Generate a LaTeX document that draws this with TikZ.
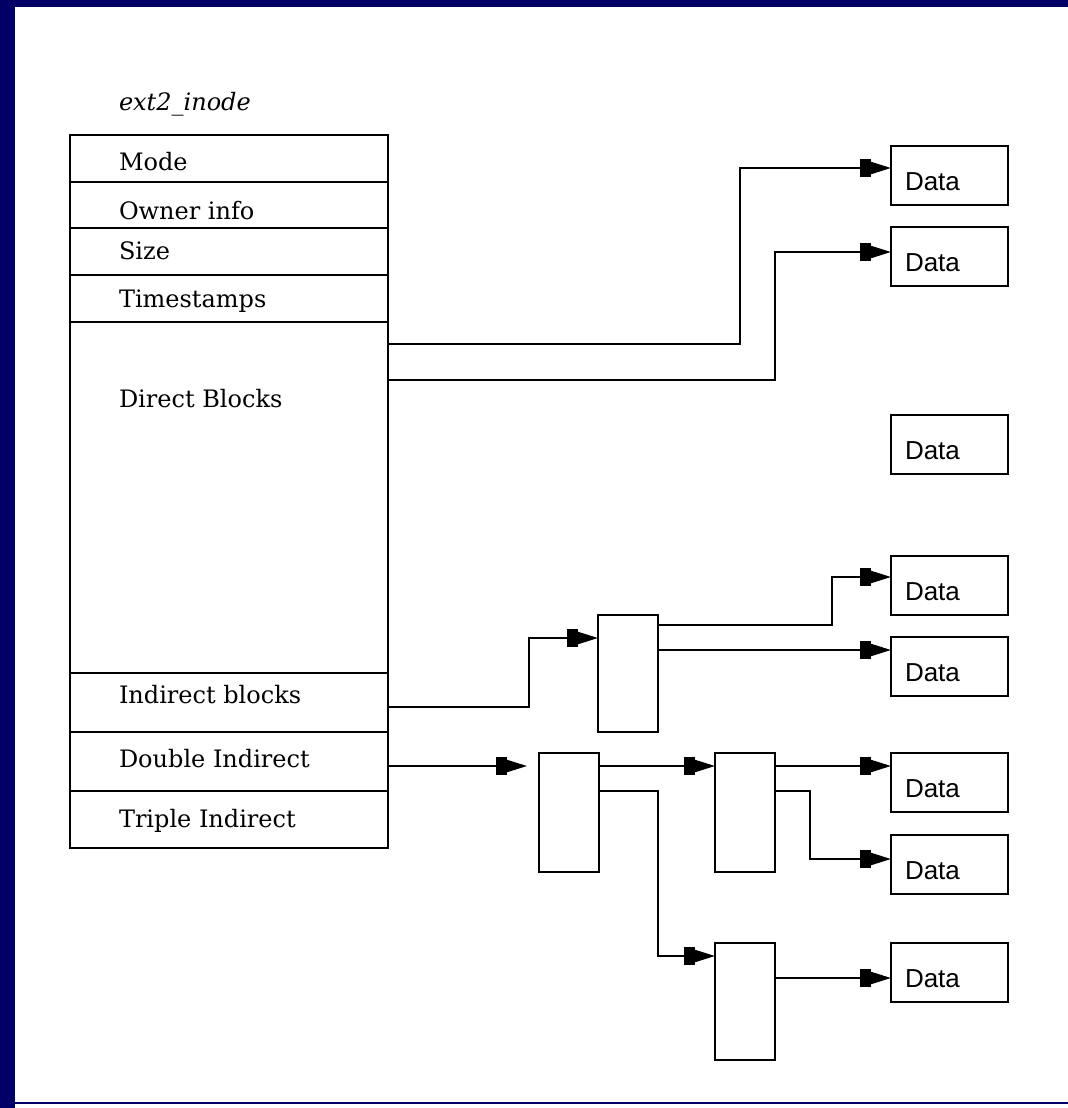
\documentclass[tikz,border=0pt]{standalone}
\usepackage{fontspec}
\usetikzlibrary{arrows.meta}
\newfontfamily\lblfont{DejaVu Serif}
\newfontfamily\datafont{Liberation Sans}
\definecolor{navy}{RGB}{0,0,102}
\newdimen\PX \PX=0.75pt
\begin{document}
\begin{tikzpicture}[x=0.75pt,y=-0.75pt,
  line width=1.5pt,
  row/.style={draw, inner sep=0pt, outer sep=0pt, minimum width=318\PX, anchor=north west},
  ptrbox/.style={draw, inner sep=0pt, outer sep=0pt, minimum width=60\PX, minimum height=118\PX, anchor=north west},
  databox/.style={draw, inner sep=0pt, outer sep=0pt, inner xsep=14\PX, text width=89\PX, align=left,
     text height=44\PX, text depth=15\PX, anchor=north west, font=\datafont\fontsize{19.5}{22}\selectfont},
  lbl/.style={anchor=base west, inner sep=0pt, font=\lblfont\fontsize{18}{21}\selectfont},
  conn/.style={draw, line width=1.5pt, -{Rectangle[length=8pt,width=13pt]Triangle[length=15pt,width=9pt]}}
]
\useasboundingbox (0,0) rectangle (1068,1108);
\fill[navy] (0,0) rectangle (15,1108);
\fill[navy] (0,0) rectangle (1068,7);
\draw[navy, line width=1.5pt] (15,1103) -- (1068,1103);

% title
\node[anchor=base west, inner sep=0pt, font=\lblfont\itshape\fontsize{18}{21}\selectfont] (title) at (118,110) {ext2\_inode};

% inode rows
\node[row, minimum height=47\PX] (mode) at (70,135) {};
\node[row, minimum height=46\PX] (owner) at (70,182) {};
\node[row, minimum height=47\PX] (size) at (70,228) {};
\node[row, minimum height=47\PX] (ts) at (70,275) {};
\node[row, minimum height=351\PX] (dir) at (70,322) {};
\node[row, minimum height=59\PX] (ind) at (70,673) {};
\node[row, minimum height=59\PX] (dind) at (70,732) {};
\node[row, minimum height=57\PX] (tind) at (70,791) {};

\node[lbl] (modeT) at (118,170) {Mode};
\node[lbl] (ownerT) at (118,219) {Owner info};
\node[lbl] (sizeT) at (118,259) {Size};
\node[lbl] (tsT) at (118,307) {Timestamps};
\node[lbl] (dirT) at (118,407) {Direct Blocks};
\node[lbl] (indT) at (118,703) {Indirect blocks};
\node[lbl] (dindT) at (118,767) {Double Indirect};
\node[lbl] (tindT) at (118,827) {Triple Indirect};

% pointer blocks
\node[ptrbox, minimum height=117\PX] (p1) at (598,615) {};
\node[ptrbox, minimum height=119\PX] (p2) at (539,753) {};
\node[ptrbox, minimum height=119\PX] (p3) at (715,753) {};
\node[ptrbox, minimum height=117\PX] (p4) at (715,943) {};

% data blocks
\node[databox] (d1) at (891,146) {Data};
\node[databox] (d2) at (891,227) {Data};
\node[databox] (d3) at (891,415) {Data};
\node[databox] (d4) at (891,556) {Data};
\node[databox] (d5) at (891,637) {Data};
\node[databox] (d6) at (891,753) {Data};
\node[databox] (d7) at (891,835) {Data};
\node[databox] (d8) at (891,943) {Data};

% connectors
\draw[conn] (dir.east |- 0,344) -- (740,344) |- (d1.west |- 0,168);
\draw[conn] (dir.east |- 0,380) -- (775,380) |- (d2.west |- 0,252);
\draw[conn] (ind.east |- 0,707) -- (529,707) |- (p1.west |- 0,638);
\draw[conn] (p1.east |- 0,625) -- (832,625) |- (d4.west |- 0,577);
\draw[conn] (p1.east |- 0,650) -- (d5.west |- 0,650);
\draw[conn, shorten >=9pt] (dind.east |- 0,766) -- (p2.west |- 0,766);
\draw[conn] (p2.east |- 0,766) -- (p3.west |- 0,766);
\draw[conn] (p2.east |- 0,791) -- (658,791) |- (p4.west |- 0,956);
\draw[conn] (p3.east |- 0,766) -- (d6.west |- 0,766);
\draw[conn] (p3.east |- 0,791) -- (810,791) |- (d7.west |- 0,859);
\draw[conn] (p4.east |- 0,978) -- (d8.west |- 0,978);
\end{tikzpicture}
\end{document}
